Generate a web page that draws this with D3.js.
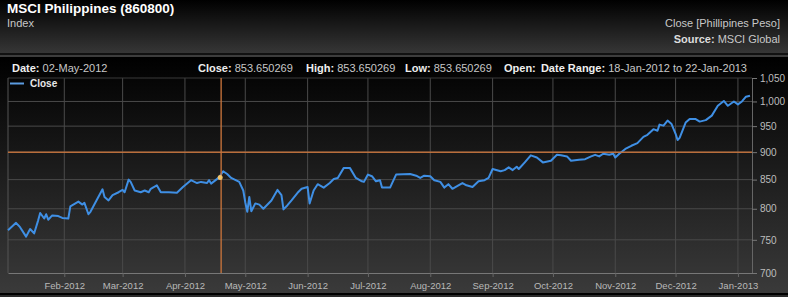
<!DOCTYPE html>
<html>
<head>
<meta charset="utf-8">
<script src="https://cdn.jsdelivr.net/npm/d3@7"></script>
<style>
  body { margin: 0; background: #000; }
  svg { display: block; font-family: "Liberation Sans", Arial, sans-serif; }
</style>
</head>
<body>
<svg id="chart" width="788" height="297"></svg>
<script>
// data
const closeDates = [
  "2012-01-04","2012-01-08","2012-01-10","2012-01-13","2012-01-15","2012-01-17","2012-01-19","2012-01-20",
  "2012-01-22","2012-01-23","2012-01-24","2012-01-26","2012-01-29","2012-01-31","2012-02-03","2012-02-04",
  "2012-02-08","2012-02-10","2012-02-11","2012-02-13","2012-02-14","2012-02-17","2012-02-20","2012-02-21",
  "2012-02-23","2012-02-25","2012-02-28","2012-03-01","2012-03-02","2012-03-04","2012-03-05","2012-03-07",
  "2012-03-10","2012-03-12","2012-03-14","2012-03-15","2012-03-18","2012-03-20","2012-03-24","2012-03-28",
  "2012-03-31","2012-04-04","2012-04-07","2012-04-09","2012-04-12","2012-04-13","2012-04-14","2012-04-18",
  "2012-04-20","2012-04-22","2012-04-24","2012-04-28","2012-04-30","2012-05-01","2012-05-02","2012-05-03",
  "2012-05-04","2012-05-06","2012-05-08","2012-05-10","2012-05-14","2012-05-17","2012-05-19","2012-05-20",
  "2012-05-22","2012-05-24","2012-05-27","2012-05-29","2012-06-01","2012-06-02","2012-06-04","2012-06-06",
  "2012-06-09","2012-06-12","2012-06-14","2012-06-16","2012-06-19","2012-06-22","2012-06-25","2012-06-28",
  "2012-06-29","2012-07-01","2012-07-03","2012-07-05","2012-07-07","2012-07-08","2012-07-12","2012-07-15",
  "2012-07-22","2012-07-25","2012-07-27","2012-07-29","2012-08-01","2012-08-03","2012-08-06","2012-08-08",
  "2012-08-10","2012-08-12","2012-08-15","2012-08-17","2012-08-19","2012-08-22","2012-08-25","2012-08-28",
  "2012-08-30","2012-09-01","2012-09-05","2012-09-07","2012-09-09","2012-09-11","2012-09-13","2012-09-14",
  "2012-09-17","2012-09-20","2012-09-23","2012-09-26","2012-09-30","2012-10-03","2012-10-05","2012-10-08",
  "2012-10-10","2012-10-14","2012-10-17","2012-10-20","2012-10-22","2012-10-24","2012-10-26","2012-10-29",
  "2012-10-31","2012-11-01","2012-11-03","2012-11-06","2012-11-09","2012-11-12","2012-11-15","2012-11-17",
  "2012-11-20","2012-11-22","2012-11-23","2012-11-25","2012-11-27","2012-11-29","2012-12-01","2012-12-02",
  "2012-12-03","2012-12-06","2012-12-08","2012-12-11","2012-12-13","2012-12-16","2012-12-19","2012-12-22",
  "2012-12-25","2012-12-27","2012-12-30","2013-01-01","2013-01-03","2013-01-05","2013-01-07"
];
const closeValues = [
  765, 777, 770, 755, 767, 760, 781, 793,
  784, 791, 782, 789, 788, 785, 784, 804,
  812, 807, 810, 791, 795, 814, 833, 820,
  814, 823, 828, 832, 828, 850, 846, 831,
  828, 831, 828, 834, 840, 828, 828, 827,
  837, 849, 844, 846, 844, 849, 843, 854,
  865, 860, 853, 846, 831, 811, 795, 820,
  796, 809, 807, 800, 814, 832, 823, 799,
  806, 814, 827, 834, 837, 809, 831, 842,
  836, 844, 851, 853, 871, 871, 853, 847,
  846, 859, 856, 847, 849, 836, 836, 859,
  860, 857, 853, 857, 856, 849, 846, 836,
  842, 834, 840, 844, 840, 837, 847, 849,
  853, 869, 865, 867, 872, 867, 873, 869,
  881, 894, 890, 881, 884, 895, 894, 892,
  884, 886, 887, 892, 895, 892, 897, 895,
  897, 890, 897, 906, 912, 917, 929, 933,
  944, 941, 953, 951, 961, 954, 935, 923,
  927, 957, 964, 964, 959, 962, 971, 991,
  1001, 991, 1000, 994, 1000, 1010, 1012
];
const yTicks = [700, 750, 800, 850, 900, 950, 1000, 1050];
const xDomain = ["2012-01-04", "2013-01-08"];
const crosshairDate = "2012-04-19";
const crosshairLevel = 900;
const hoverValue = 853.650269;

const parse = d3.timeParse("%Y-%m-%d");
const data = closeDates.map((d, i) => ({ date: parse(d), close: closeValues[i] }));

const svg = d3.select("#chart");
const width = 788, height = 297;
const plotL = 8, plotR = 752, plotT = 78, plotB = 273;

const defs = svg.append("defs");
const hdr = defs.append("linearGradient").attr("id", "hdr").attr("x1", 0).attr("x2", 0).attr("y1", 0).attr("y2", 1);
hdr.append("stop").attr("offset", "0%").attr("stop-color", "#000");
hdr.append("stop").attr("offset", "100%").attr("stop-color", "#373737");
const bg = defs.append("linearGradient").attr("id", "bg").attr("x1", 0).attr("x2", 0).attr("y1", 0).attr("y2", 1);
bg.append("stop").attr("offset", "0%").attr("stop-color", "#000");
bg.append("stop").attr("offset", "10%").attr("stop-color", "#060606");
bg.append("stop").attr("offset", "100%").attr("stop-color", "#3a3a3a");

// header
svg.append("rect").attr("width", width).attr("height", 54).attr("fill", "url(#hdr)");
svg.append("rect").attr("y", 53).attr("width", width).attr("height", 2).attr("fill", "#111");
svg.append("rect").attr("y", 55.5).attr("width", width).attr("height", 1).attr("fill", "#7a7a7a");
svg.append("rect").attr("y", 57).attr("width", width).attr("height", 236).attr("fill", "url(#bg)");
svg.append("rect").attr("y", 293).attr("width", width).attr("height", 2).attr("fill", "#000");
svg.append("rect").attr("y", 295).attr("width", width).attr("height", 2).attr("fill", "#2b2b2b");

svg.append("text").attr("x", 7).attr("y", 13).attr("fill", "#fff")
  .attr("font-size", "13.5px").attr("font-weight", "bold").text("MSCI Philippines (860800)");
svg.append("text").attr("x", 7).attr("y", 27).attr("fill", "#c8c8c8")
  .attr("font-size", "11px").text("Index");
svg.append("text").attr("x", 780).attr("y", 27).attr("fill", "#c8c8c8")
  .attr("text-anchor", "end").attr("font-size", "11px").text("Close [Phillipines Peso]");
const src = svg.append("text").attr("x", 780).attr("y", 43).attr("text-anchor", "end").attr("font-size", "11px");
src.append("tspan").attr("font-weight", "bold").attr("fill", "#ddd").text("Source: ");
src.append("tspan").attr("fill", "#c8c8c8").text("MSCI Global");

// info bar
function info(x, label, value, anchor) {
  const t = svg.append("text").attr("x", x).attr("y", 72).attr("font-size", "11px")
    .attr("text-anchor", anchor || "start");
  t.append("tspan").attr("font-weight", "bold").attr("fill", "#eee").text(label);
  if (value) t.append("tspan").attr("fill", "#c8c8c8").text(" " + value);
}
info(12, "Date:", "02-May-2012");
info(198, "Close:", "853.650269");
info(306, "High:", "853.650269");
info(405, "Low:", "853.650269");
info(504, "Open:", "");
info(747, "Date Range:", "18-Jan-2012 to 22-Jan-2013", "end");

// scales
const x = d3.scaleTime().domain(xDomain.map(parse)).range([plotL, plotR]);
const y = d3.scaleLog().domain([700, 1050]).range([plotB, plotT]);

// grid
const months = x.ticks(d3.timeMonth.every(1));
svg.append("g").selectAll("line").data(months).join("line")
  .attr("x1", d => x(d)).attr("x2", d => x(d)).attr("y1", plotT).attr("y2", plotB)
  .attr("stroke", "#4a4a4a").attr("stroke-width", 1);
svg.append("g").selectAll("line").data(yTicks.slice(1, -1)).join("line")
  .attr("x1", plotL).attr("x2", plotR).attr("y1", d => y(d)).attr("y2", d => y(d))
  .attr("stroke", "#4a4a4a").attr("stroke-width", 1);
svg.append("line").attr("x1", plotL).attr("x2", plotR).attr("y1", plotT).attr("y2", plotT).attr("stroke", "#3a3a3a");
svg.append("line").attr("x1", plotL).attr("x2", plotL).attr("y1", plotT).attr("y2", plotB).attr("stroke", "#555");

// axes
const xAxis = svg.append("g").attr("transform", `translate(0,${plotB})`)
  .call(d3.axisBottom(x).ticks(d3.timeMonth.every(1)).tickFormat(d3.timeFormat("%b-%Y")).tickSize(4).tickSizeOuter(0));
xAxis.select(".domain").attr("stroke", "#777");
xAxis.selectAll(".tick line").attr("stroke", "#666");
xAxis.selectAll(".tick text").attr("fill", "#b8b8b8").attr("font-size", "9.5px")
  .attr("font-family", "Liberation Sans, Arial, sans-serif").attr("dy", "0.9em");

const yAxis = svg.append("g").attr("transform", `translate(${plotR},0)`)
  .call(d3.axisRight(y).tickValues(yTicks).tickFormat(d3.format(",")).tickSize(5).tickSizeOuter(0));
yAxis.select(".domain").attr("stroke", "#666");
yAxis.selectAll(".tick line").attr("stroke", "#777");
yAxis.selectAll(".tick text").attr("fill", "#bdbdbd").attr("font-size", "10px")
  .attr("font-family", "Liberation Sans, Arial, sans-serif").attr("x", 8);

// series
const line = d3.line().x(d => x(d.date)).y(d => y(d.close));
svg.append("path").datum(data).attr("d", line)
  .attr("fill", "none").attr("stroke", "#3f8fe4").attr("stroke-width", 2).attr("stroke-linejoin", "round");

// crosshair
const cx = x(parse(crosshairDate));
svg.append("line").attr("x1", plotL).attr("x2", plotR).attr("y1", y(crosshairLevel)).attr("y2", y(crosshairLevel))
  .attr("stroke", "#c8743c").attr("stroke-width", 1.5).attr("opacity", 0.9);
svg.append("line").attr("x1", cx).attr("x2", cx).attr("y1", plotT).attr("y2", plotB)
  .attr("stroke", "#c8743c").attr("stroke-width", 1.5).attr("opacity", 0.9);
svg.append("circle").attr("cx", cx - 1).attr("cy", y(hoverValue)).attr("r", 2.5).attr("fill", "#f2c46a");

// legend
svg.append("line").attr("x1", 10).attr("x2", 24).attr("y1", 83.5).attr("y2", 83.5)
  .attr("stroke", "#5b9be0").attr("stroke-width", 2);
svg.append("text").attr("x", 30).attr("y", 87).attr("fill", "#e8e8e8")
  .attr("font-size", "10px").attr("font-weight", "bold").text("Close");
</script>
</body>
</html>
